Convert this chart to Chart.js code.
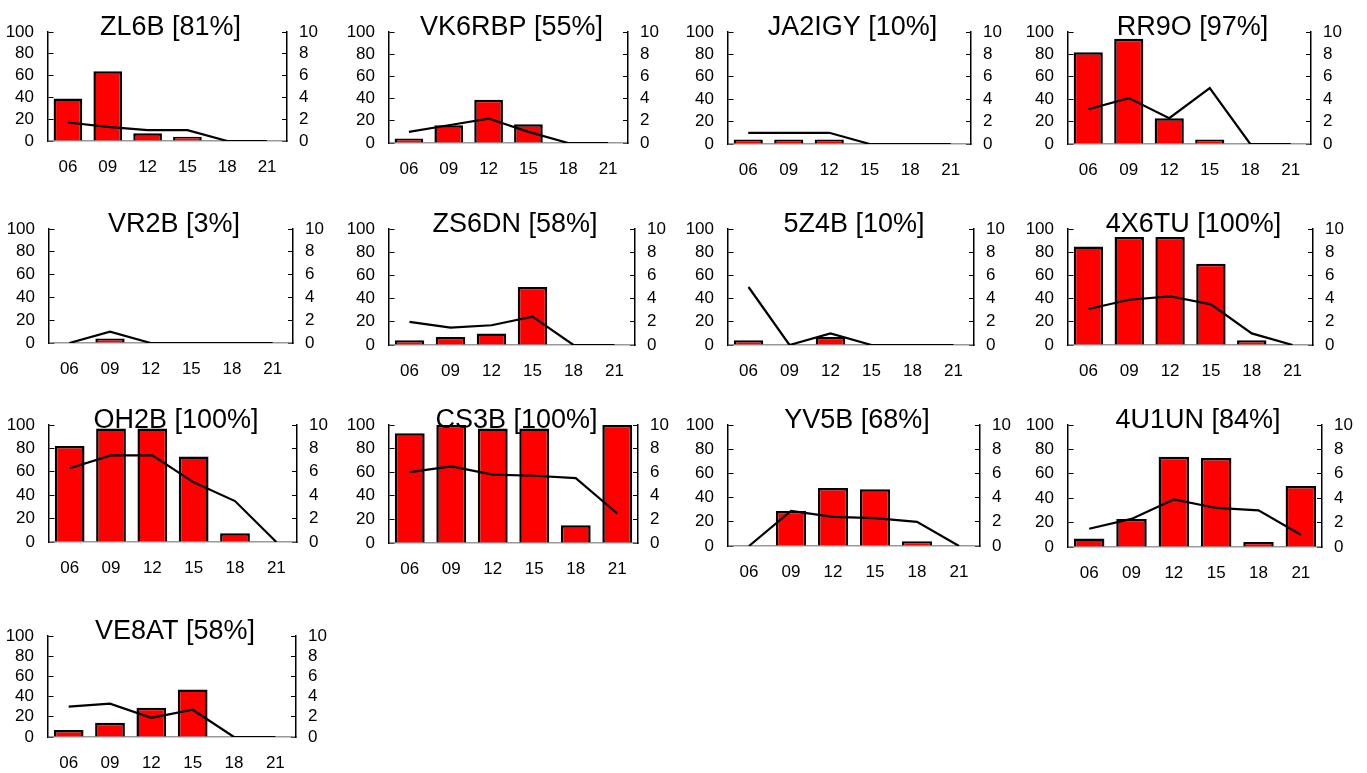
<!DOCTYPE html>
<html>
<head>
<meta charset="utf-8">
<script src="https://cdn.jsdelivr.net/npm/chart.js@4.4.0/dist/chart.umd.min.js"></script>
<style>
  body { margin: 0; background: #fff; }
  #wrap { position: relative; width: 1367px; height: 773px; overflow: hidden; }
  #wrap canvas { position: absolute; }
</style>
</head>
<body>
<div id="wrap"></div>
<script>
const hours = ["06", "09", "12", "15", "18", "21"];
const stations = ["ZL6B", "VK6RBP", "JA2IGY", "RR9O", "VR2B", "ZS6DN", "5Z4B",
  "4X6TU", "OH2B", "CS3B", "YV5B", "4U1UN", "VE8AT"];
const percent = [81, 55, 10, 97, 3, 58, 10, 100, 100, 100, 68, 84, 58];

// bars, left axis (0-100)
const bars = [
  [39, 64, 7, 4, 0, 0],
  [4, 16, 39, 17, 0, 0],
  [4, 4, 4, 0, 0, 0],
  [82, 94, 23, 4, 0, 0],
  [0, 4, 0, 0, 0, 0],
  [4, 7, 10, 50, 0, 0],
  [4, 0, 7, 0, 0, 0],
  [85, 93, 93, 70, 4, 0],
  [82, 97, 97, 73, 7.5, 0],
  [93, 100, 97, 97, 15, 100],
  [0, 29, 48, 47, 4, 0],
  [7, 23, 74, 73, 4, 50],
  [7, 14, 29, 47, 0, 0],
];

// line, right axis (0-10)
const lines = [
  [1.7, 1.3, 1.0, 1.0, 0, 0],
  [1.0, 1.6, 2.2, 1.0, 0, 0],
  [1.0, 1.0, 1.0, 0, 0, 0],
  [3.1, 4.1, 2.3, 5.0, 0, 0],
  [0, 1.0, 0, 0, 0, 0],
  [2.0, 1.5, 1.7, 2.45, 0, 0],
  [5.0, 0, 1.0, 0, 0, 0],
  [3.1, 3.9, 4.2, 3.5, 1.0, 0],
  [6.3, 7.4, 7.4, 5.1, 3.5, 0],
  [6.0, 6.5, 5.8, 5.7, 5.5, 2.5],
  [0, 2.9, 2.4, 2.3, 2.0, 0],
  [1.5, 2.3, 3.9, 3.2, 3.0, 1.0],
  [3.0, 3.3, 1.9, 2.7, 0, 0],
];

// plot area of each panel: left, top, right, bottom (page px)
const boxes = [
  [48, 32, 287, 141], [389, 32, 628, 143], [728, 32, 971, 144], [1068, 32, 1311, 144],
  [49, 229, 293, 343], [389, 229, 635, 345], [728, 229, 974, 345], [1068, 229, 1313, 345],
  [49, 425, 297, 542], [389, 425, 638, 543], [728, 425, 980, 546], [1068, 425, 1322, 547],
  [48, 636, 296, 737],
];

const LEFT = 48, RIGHT = 50, TOP = 33, BOTTOM = 40;

Chart.defaults.font.family = "'Liberation Sans', Arial, sans-serif";
Chart.defaults.font.size = 17;
Chart.defaults.color = "#000";

// title drawn over the plot, like the original
const panelTitle = {
  id: "panelTitle",
  afterDraw(chart, args, opts) {
    const { ctx, chartArea } = chart;
    ctx.save();
    ctx.font = "27px 'Liberation Sans', Arial, sans-serif";
    ctx.fillStyle = "#000";
    ctx.textAlign = "center";
    ctx.textBaseline = "alphabetic";
    ctx.fillText(opts.text, (chartArea.left + chartArea.right) / 2 + 3, chartArea.top + 3);
    ctx.restore();
  },
};

const wrap = document.getElementById("wrap");

stations.forEach((name, i) => {
  const [l, t, r, b] = boxes[i];
  const w = r - l;
  const canvas = document.createElement("canvas");
  canvas.width = w + LEFT + RIGHT;
  canvas.height = b - t + TOP + BOTTOM;
  canvas.style.left = l - LEFT + "px";
  canvas.style.top = t - TOP + "px";
  wrap.appendChild(canvas);

  new Chart(canvas, {
    type: "bar",
    data: {
      labels: hours,
      datasets: [
        {
          type: "line",
          data: lines[i],
          yAxisID: "y1",
          borderColor: "#000",
          borderWidth: 2.2,
          pointRadius: 0,
          tension: 0,
          order: 0,
        },
        {
          type: "bar",
          data: bars[i],
          yAxisID: "y",
          backgroundColor: "#ff0000",
          borderColor: "#000",
          borderWidth: 2.5,
          barPercentage: 0.72,
          categoryPercentage: 1,
          order: 1,
        },
      ],
    },
    options: {
      responsive: false,
      animation: false,
      layout: { padding: { top: TOP, left: 0, right: 0, bottom: 0 } },
      plugins: {
        legend: { display: false },
        tooltip: { enabled: false },
        panelTitle: { text: name + " [" + percent[i] + "%]" },
      },
      scales: {
        x: {
          grid: { display: false, drawTicks: false },
          border: { display: true, color: "#999", width: 1.5 },
          ticks: { padding: 16, maxRotation: 0, autoSkip: false },
          afterFit: (s) => { s.height = BOTTOM; },
        },
        y: {
          position: "left",
          min: 0,
          max: 100,
          ticks: { stepSize: 20, padding: 14, autoSkip: false },
          grid: { drawTicks: false, color: "#000", lineWidth: 1 },
          border: { color: "#000", width: 1.5, dash: [5, 2000], dashOffset: 0 },
          afterFit: (s) => { s.width = LEFT; },
        },
        y1: {
          position: "right",
          min: 0,
          max: 10,
          ticks: { stepSize: 2, padding: 12, autoSkip: false },
          grid: { drawTicks: false, color: "#000", lineWidth: 1 },
          border: { color: "#000", width: 1.5, dash: [5, 2000], dashOffset: 2010 - w },
          afterFit: (s) => { s.width = RIGHT; },
        },
      },
    },
    plugins: [panelTitle],
  });
});
</script>
</body>
</html>
